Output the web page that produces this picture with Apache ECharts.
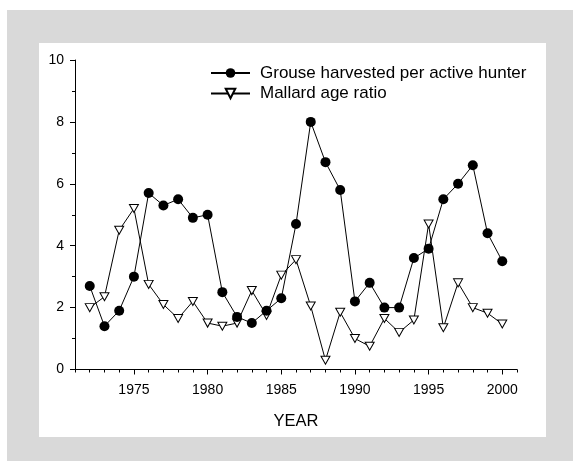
<!DOCTYPE html>
<html>
<head>
<meta charset="utf-8">
<script src="https://cdn.jsdelivr.net/npm/echarts@6/dist/echarts.min.js"></script>
<style>
html,body{margin:0;padding:0;background:#ffffff;}
#chart{width:573px;height:461px;}
</style>
</head>
<body>
<div id="chart"></div>
<script>
const years = [1972,1973,1974,1975,1976,1977,1978,1979,1980,1981,1982,1983,1984,1985,1986,1987,1988,1989,1990,1991,1992,1993,1994,1995,1996,1997,1998,1999,2000];
const grouse = [2.7,1.4,1.9,3.0,5.7,5.3,5.5,4.9,5.0,2.5,1.7,1.5,1.9,2.3,4.7,8.0,6.7,5.8,2.2,2.8,2.0,2.0,3.6,3.9,5.5,6.0,6.6,4.4,3.5];
const mallard = [2.0,2.35,4.5,5.2,2.75,2.1,1.65,2.2,1.5,1.4,1.5,2.55,1.75,3.05,3.55,2.05,0.3,1.85,1.0,0.75,1.65,1.2,1.6,4.7,1.35,2.8,2.0,1.82,1.47];
const xMajorTicks = [1975,1980,1985,1990,1995,2000];
const seriesNames = ['Grouse harvested per active hunter','Mallard age ratio'];

const font = 'Liberation Sans, Arial, Helvetica, sans-serif';
const chart = echarts.init(document.getElementById('chart'), null, {renderer:'canvas'});
const triDown = 'path://M0,0 L10,0 L5,9 Z';

chart.setOption({
  animation:false,
  textStyle:{fontFamily:font, color:'#000'},
  graphic:[
    {type:'rect', z:-100, silent:true, shape:{x:7,y:10,width:566,height:451}, style:{fill:'#d9d9d9'}},
    {type:'rect', z:-99, silent:true, shape:{x:39,y:43,width:507,height:394}, style:{fill:'#ffffff'}}
  ],
  legend:{
    orient:'vertical', left:210, top:64.5, padding:0,
    itemWidth:39, itemHeight:12, itemGap:3.5,
    data:seriesNames,
    textStyle:{fontFamily:font, fontSize:17, color:'#000', padding:[0,0,0,5]}
  },
  grid:{left:75, right:56, top:60, bottom:91.5, containLabel:false},
  xAxis:[
    {type:'value', min:1971, max:2001, interval:1,
     name:'YEAR', nameLocation:'middle', nameGap:43,
     nameTextStyle:{fontFamily:font, fontSize:16.5, color:'#000'},
     axisLine:{show:true, lineStyle:{color:'#000', width:1}},
     axisTick:{show:true, length:3, lineStyle:{color:'#000', width:1}},
     axisLabel:{show:false},
     splitLine:{show:false}},
    {type:'value', min:1971, max:2001, position:'bottom',
     axisLine:{show:false},
     axisTick:{show:true, length:5, customValues:xMajorTicks, lineStyle:{color:'#000', width:1}},
     axisLabel:{show:true, customValues:xMajorTicks, margin:14, fontFamily:font, fontSize:14, color:'#000',
       formatter:function(v){return String(v);}},
     splitLine:{show:false}}
  ],
  yAxis:{
    type:'value', min:0, max:10, interval:2,
    axisLine:{show:true, lineStyle:{color:'#000', width:1}},
    axisTick:{show:true, length:5, lineStyle:{color:'#000', width:1}},
    minorTick:{show:true, splitNumber:2, length:3, lineStyle:{color:'#000', width:1}},
    axisLabel:{margin:11, fontFamily:font, fontSize:14, color:'#000'},
    splitLine:{show:false}
  },
  series:[
    {name:seriesNames[1], type:'line', xAxisIndex:0,
     data:years.map((y,i)=>[y,mallard[i]]),
     symbol:triDown, symbolSize:[9,8],
     lineStyle:{color:'#000', width:1},
     itemStyle:{color:'#fff', borderColor:'#000', borderWidth:1},
     z:2},
    {name:seriesNames[0], type:'line', xAxisIndex:0,
     data:years.map((y,i)=>[y,grouse[i]]),
     symbol:'circle', symbolSize:10,
     lineStyle:{color:'#000', width:1},
     itemStyle:{color:'#000', borderColor:'#000', borderWidth:0},
     z:3}
  ]
});
</script>
</body>
</html>
